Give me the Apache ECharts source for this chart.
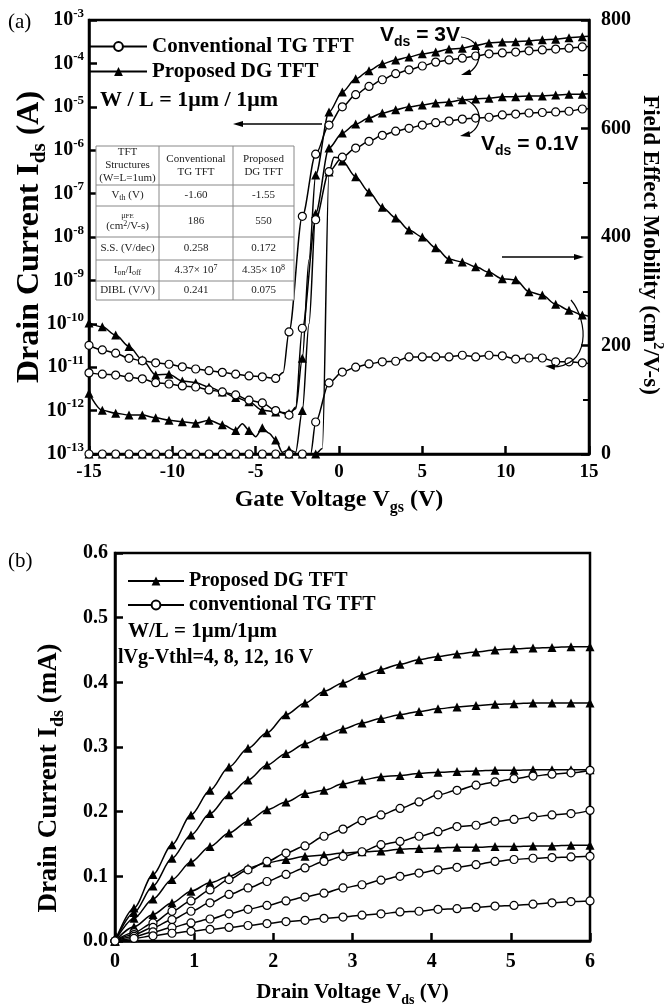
<!DOCTYPE html>
<html>
<head>
<meta charset="utf-8">
<script src="https://cdn.jsdelivr.net/npm/echarts@6/dist/echarts.min.js"></script>
</head>
<body style="margin:0;background:#fff">
<div id="container" style="width:665px;height:1008px"></div>
<script>
var SERIF = 'Liberation Serif';
var SANS = 'Liberation Sans';

// ---- panel (a): transfer curves, Vgs marker points ----
var vgsPoints = [-15, -14.2, -13.4, -12.6, -11.8, -11.0, -10.2, -9.4, -8.6, -7.8, -7.0, -6.2, -5.4, -4.6, -3.8,
    -3.0, -2.2, -1.4, -0.6, 0.2, 1.0, 1.8, 2.6, 3.4, 4.2, 5.0, 5.8, 6.6, 7.4, 8.2, 9.0, 9.8, 10.6, 11.4, 12.2, 13.0, 13.8, 14.6];

// drain current (A)
var idConv3V = [3.2e-11, 2.5e-11, 2.1e-11, 1.6e-11, 1.4e-11, 1.26e-11, 1.17e-11, 1.02e-11, 9.1e-12, 8.3e-12, 7.6e-12, 6.9e-12, 6.3e-12, 6.0e-12, 5.5e-12,
    6.5e-11, 3.0e-8, 8.1e-7, 3.8e-6, 1.0e-5, 1.9e-5, 2.95e-5, 4.2e-5, 5.8e-5, 7.1e-5, 8.7e-5, 1.07e-4, 1.2e-4, 1.32e-4, 1.48e-4, 1.66e-4, 1.74e-4, 1.82e-4, 1.95e-4, 2.04e-4, 2.14e-4, 2.24e-4, 2.4e-4];
var idConv3VExtra = [[-3.35, 7.5e-12], [15, 2.45e-4]];

var idConv01V = [7.4e-12, 6.9e-12, 6.6e-12, 5.9e-12, 5.4e-12, 4.4e-12, 4.1e-12, 3.7e-12, 3.5e-12, 3.0e-12, 2.7e-12, 2.3e-12, 1.74e-12, 1.5e-12, 1.0e-12,
    7.9e-13, 7.9e-11, 2.5e-8, 3.2e-7, 6.9e-7, 1.12e-6, 1.6e-6, 2.2e-6, 2.75e-6, 3.2e-6, 3.8e-6, 4.3e-6, 4.7e-6, 5.2e-6, 5.5e-6, 5.75e-6, 6.5e-6, 6.8e-6, 7.2e-6, 7.4e-6, 7.6e-6, 7.9e-6, 8.9e-6];
var idConv01VExtra = [[-2.6, 1.2e-12], [15, 9e-6]];

var idProp3V = [1.05e-10, 8.5e-11, 5.5e-11, 3.0e-11, 1.48e-11, 6.6e-12, 6.9e-12, 4.8e-12, 4.4e-12, 3.5e-12, 2.7e-12, 2.0e-12, 1.6e-12, 1.02e-12, 9.3e-13,
    8.7e-13, 1.6e-11, 2.7e-7, 7.6e-6, 2.2e-5, 4.4e-5, 6.8e-5, 9.8e-5, 1.2e-4, 1.41e-4, 1.66e-4, 1.82e-4, 2.14e-4, 2.24e-4, 2.6e-4, 2.95e-4, 3.1e-4, 3.16e-4, 3.3e-4, 3.5e-4, 3.6e-4, 3.9e-4, 4.1e-4];
var idProp3VExtra = [[-2.6, 1.1e-12], [-1.8, 3e-9], [15, 4.2e-4]];

var idProp01V = [2.5e-12, 1.02e-12, 8.7e-13, 7.9e-13, 7.9e-13, 6.8e-13, 6.0e-13, 5.5e-13, 5.1e-13, 6.0e-13, 4.7e-13, 3.5e-13, 3.5e-13, 4.0e-13, 2.1e-13,
    1.26e-13, 1.0e-12, 3.5e-8, 1.12e-6, 2.5e-6, 4.0e-6, 5.5e-6, 7.2e-6, 8.5e-6, 1.0e-5, 1.1e-5, 1.23e-5, 1.29e-5, 1.45e-5, 1.51e-5, 1.58e-5, 1.7e-5, 1.7e-5, 1.78e-5, 1.78e-5, 1.86e-5, 1.95e-5, 1.95e-5];
var idProp01VExtra = [[-5.8, 5e-13], [-5.0, 2.5e-13], [-4.2, 3e-13], [-3.4, 1.1e-13], [-2.6, 1.1e-13], [-1.8, 1e-10], [15, 2e-5]];

// field effect mobility (cm2/V-s)
var mobConv = [0, 0, 0, 0, 0, 0, 0, 0, 0, 0, 0, 0, 0, 0, 0, 0, 0,
    59, 131, 151, 160, 166, 170, 171, 179, 179, 179, 179, 182, 179, 182, 181, 175, 177, 177, 170, 170, 168];
var mobConvExtra = [[-1.7, 0], [15, 167]];

var mobProp = [0, 0, 0, 0, 0, 0, 0, 0, 0, 0, 0, 0, 0, 0, 0, 0, 0, 0,
    520, 540, 511, 483, 455, 435, 413, 400, 380, 359, 354, 345, 335, 323, 321, 299, 293, 276, 265, 256];
var mobPropExtra = [[-1.0, 10], [-0.3, 547], [0.0, 546], [15, 254]];

// ---- panel (b): output curves ----
var vdsPoints = [0, 0.24, 0.48, 0.72, 0.96, 1.2, 1.44, 1.68, 1.92, 2.16, 2.4, 2.64, 2.88, 3.12, 3.36, 3.6,
    3.84, 4.08, 4.32, 4.56, 4.8, 5.04, 5.28, 5.52, 5.76, 6.0];
var propOut16 = [0, 0.051, 0.103, 0.149, 0.195, 0.233, 0.269, 0.298, 0.322, 0.350, 0.368, 0.386, 0.399, 0.411, 0.420, 0.428, 0.435, 0.440, 0.444, 0.447, 0.450, 0.452, 0.453, 0.454, 0.455, 0.455];
var propOut12 = [0, 0.044, 0.085, 0.128, 0.164, 0.197, 0.226, 0.249, 0.272, 0.290, 0.305, 0.317, 0.328, 0.337, 0.344, 0.350, 0.355, 0.359, 0.362, 0.364, 0.366, 0.367, 0.368, 0.368, 0.368, 0.368];
var propOut8 = [0, 0.035, 0.065, 0.095, 0.122, 0.146, 0.167, 0.185, 0.203, 0.215, 0.228, 0.233, 0.243, 0.249, 0.254, 0.256, 0.259, 0.261, 0.262, 0.263, 0.264, 0.264, 0.265, 0.265, 0.265, 0.265];
var propOut4 = [0, 0.022, 0.041, 0.059, 0.077, 0.090, 0.100, 0.113, 0.121, 0.126, 0.131, 0.133, 0.136, 0.138, 0.139, 0.142, 0.143, 0.144, 0.145, 0.145, 0.146, 0.146, 0.147, 0.147, 0.148, 0.148];
var convOut16 = [0, 0.013, 0.028, 0.046, 0.062, 0.079, 0.095, 0.110, 0.123, 0.136, 0.147, 0.162, 0.173, 0.186, 0.195, 0.205, 0.215, 0.226, 0.233, 0.241, 0.246, 0.251, 0.255, 0.258, 0.260, 0.264];
var convOut12 = [0, 0.010, 0.021, 0.033, 0.046, 0.059, 0.072, 0.082, 0.092, 0.103, 0.113, 0.123, 0.131, 0.138, 0.149, 0.154, 0.162, 0.169, 0.177, 0.179, 0.185, 0.188, 0.192, 0.195, 0.197, 0.202];
var convOut8 = [0, 0.007, 0.014, 0.021, 0.028, 0.034, 0.042, 0.049, 0.055, 0.062, 0.068, 0.074, 0.082, 0.087, 0.094, 0.100, 0.105, 0.110, 0.114, 0.118, 0.123, 0.126, 0.128, 0.129, 0.130, 0.131];
var convOut4 = [0, 0.004, 0.008, 0.012, 0.015, 0.018, 0.021, 0.024, 0.027, 0.030, 0.032, 0.035, 0.037, 0.040, 0.042, 0.045, 0.046, 0.049, 0.050, 0.052, 0.054, 0.055, 0.057, 0.059, 0.061, 0.062];

// table inside panel (a)
var tableHead = ['TFT\nStructures\n(W=L=1um)', 'Conventional\nTG TFT', 'Proposed\nDG TFT'];
var tableRows = [
    ['{t|V}{s|th}{t| (V)}', '-1.60', '-1.55'],
    ['{s|\u03bc}{ss|FE}\n{t|(cm}{p|2}{t|/V-s)}', '186', '550'],
    ['{t|S.S. (V/dec)}', '0.258', '0.172'],
    ['{t|I}{s|on}{t|/I}{s|off}', '{t|4.37\u00d7 10}{p|7}', '{t|4.35\u00d7 10}{p|8}'],
    ['{t|DIBL (V/V)}', '0.241', '0.075']
];

var dom = document.getElementById('container');
var myChart = echarts.init(dom);

function mergePoints(xs, ys, extra) {
    var pts = xs.map(function (x, i) { return { value: [x, ys[i]] }; });
    (extra || []).forEach(function (p) { pts.push({ value: p, symbol: 'none' }); });
    pts.sort(function (a, b) { return a.value[0] - b.value[0]; });
    return pts;
}

function curve(name, data, isTri, xi, yi) {
    return {
        type: 'line', name: name, xAxisIndex: xi, yAxisIndex: yi,
        data: data, smooth: 0.3, smoothMonotone: 'x',
        symbol: isTri ? 'triangle' : 'circle',
        symbolSize: isTri ? 9 : 8,
        showAllSymbol: true,
        lineStyle: { color: '#000', width: 1.5 },
        itemStyle: isTri ? { color: '#000' } : { color: '#fff', borderColor: '#000', borderWidth: 1.2 },
        emphasis: { disabled: true },
        clip: true,
        z: isTri ? 3 : 4
    };
}

function nameRich(size) {
    return {
        t: { fontFamily: SERIF, fontWeight: 'bold', color: '#000', fontSize: size, lineHeight: size + 8 },
        s: { fontFamily: SERIF, fontWeight: 'bold', color: '#000', fontSize: Math.round(size * 0.65), lineHeight: Math.round(size * 0.7), verticalAlign: 'bottom' },
        p: { fontFamily: SERIF, fontWeight: 'bold', color: '#000', fontSize: Math.round(size * 0.6), lineHeight: Math.round(size * 0.7), verticalAlign: 'top' }
    };
}
var axisLineBlack = { onZero: false, lineStyle: { color: '#000', width: 2.5 } };
var tickIn = { inside: true, length: 8, lineStyle: { color: '#000', width: 2.5 } };

var series = [
    curve('Conventional TG TFT', mergePoints(vgsPoints, idConv3V, idConv3VExtra), false, 0, 0),
    curve('Proposed DG TFT', mergePoints(vgsPoints, idProp3V, idProp3VExtra), true, 0, 0),
    curve('Conventional TG TFT', mergePoints(vgsPoints, idConv01V, idConv01VExtra), false, 0, 0),
    curve('Proposed DG TFT', mergePoints(vgsPoints, idProp01V, idProp01VExtra), true, 0, 0),
    curve('Conventional TG TFT', mergePoints(vgsPoints, mobConv, mobConvExtra), false, 0, 1),
    curve('Proposed DG TFT', mergePoints(vgsPoints, mobProp, mobPropExtra), true, 0, 1),
    curve('Proposed DG TFT', mergePoints(vdsPoints, propOut16), true, 1, 2),
    curve('Proposed DG TFT', mergePoints(vdsPoints, propOut12), true, 1, 2),
    curve('Proposed DG TFT', mergePoints(vdsPoints, propOut8), true, 1, 2),
    curve('Proposed DG TFT', mergePoints(vdsPoints, propOut4), true, 1, 2),
    curve('conventional TG TFT', mergePoints(vdsPoints, convOut16), false, 1, 2),
    curve('conventional TG TFT', mergePoints(vdsPoints, convOut12), false, 1, 2),
    curve('conventional TG TFT', mergePoints(vdsPoints, convOut8), false, 1, 2),
    curve('conventional TG TFT', mergePoints(vdsPoints, convOut4), false, 1, 2)
];

// ---- graphic: labels, arrows, table ----
var g = [];
function txt(x, y, text, opt) {
    var st = { text: text, x: 0, y: 0, fill: '#000', fontFamily: SERIF, fontWeight: 'bold', fontSize: 20, align: 'left', verticalAlign: 'middle' };
    for (var k in opt) st[k] = opt[k];
    g.push({ type: 'text', x: x, y: y, z: 20, style: st });
}
function arrowHead(x, y, dx, dy) {
    var len = Math.sqrt(dx * dx + dy * dy), ux = dx / len, uy = dy / len;
    var bx = x - ux * 10, by = y - uy * 10;
    g.push({ type: 'polygon', z: 20, shape: { points: [[x, y], [bx - uy * 3, by + ux * 3], [bx + uy * 3, by - ux * 3]] }, style: { fill: '#000' } });
}
function seg(x1, y1, x2, y2, w) {
    g.push({ type: 'line', z: 20, shape: { x1: x1, y1: y1, x2: x2, y2: y2 }, style: { stroke: '#000', lineWidth: w || 1.5 } });
}
function bez(p, w) {
    g.push({ type: 'bezierCurve', z: 20, shape: { x1: p[0], y1: p[1], cpx1: p[2], cpy1: p[3], cpx2: p[4], cpy2: p[5], x2: p[6], y2: p[7] }, style: { stroke: '#000', lineWidth: w || 1.2, fill: null } });
}

txt(8, 22, '(a)', { fontWeight: 'normal', fontSize: 21 });
txt(8, 561, '(b)', { fontWeight: 'normal', fontSize: 21 });
txt(100, 100, 'W / L = 1\u03bcm / 1\u03bcm', { fontSize: 22 });
txt(128, 632, 'W/L = 1\u03bcm/1\u03bcm', { fontSize: 21 });
txt(118, 658, 'lVg-Vthl=4, 8, 12, 16 V', { fontSize: 20 });

var vdsRich = {
    v: { fontFamily: SANS, fontWeight: 'bold', fontSize: 21, color: '#000', lineHeight: 28 },
    s: { fontFamily: SANS, fontWeight: 'bold', fontSize: 14, color: '#000', lineHeight: 14, verticalAlign: 'bottom' }
};
txt(380, 35, '{v|V}{s|ds}{v| = 3V}', { rich: vdsRich });
txt(481, 144, '{v|V}{s|ds}{v| = 0.1V}', { rich: vdsRich });

// straight arrows
seg(322, 124, 236, 124, 1.5); arrowHead(233, 124, -1, 0);
seg(502, 257, 580, 257, 1.5); arrowHead(584, 257, 1, 0);
// curved arrows
bez([461, 37, 483, 39, 485, 66, 466, 74]); arrowHead(461, 75, -1, 0.3);
bez([457, 98, 484, 100, 486, 130, 465, 135]); arrowHead(460, 136, -1, 0.2);
bez([571, 300, 588, 320, 592, 368, 550, 367]); arrowHead(545, 366, -1, -0.1);

// table
var colX = [96, 159, 233, 294];
var rowY = [146, 185, 206, 237, 260, 281, 300];
g.push({ type: 'rect', z: 15, shape: { x: colX[0], y: rowY[0], width: colX[3] - colX[0], height: rowY[6] - rowY[0] }, style: { fill: '#fff', stroke: '#888', lineWidth: 1 } });
colX.slice(1, 3).forEach(function (x) {
    g.push({ type: 'line', z: 16, shape: { x1: x, y1: rowY[0], x2: x, y2: rowY[6] }, style: { stroke: '#888', lineWidth: 1 } });
});
rowY.slice(1, 6).forEach(function (y) {
    g.push({ type: 'line', z: 16, shape: { x1: colX[0], y1: y, x2: colX[3], y2: y }, style: { stroke: '#888', lineWidth: 1 } });
});
var cellRich = {
    t: { fontFamily: SERIF, fontSize: 11, color: '#222', lineHeight: 13 },
    s: { fontFamily: SERIF, fontSize: 8, color: '#222', lineHeight: 8, verticalAlign: 'bottom' },
    ss: { fontFamily: SERIF, fontSize: 7, color: '#222', lineHeight: 9, verticalAlign: 'bottom' },
    p: { fontFamily: SERIF, fontSize: 8, color: '#222', lineHeight: 8, verticalAlign: 'top' }
};
function cell(ci, ri, text) {
    g.push({
        type: 'text', z: 17, x: (colX[ci] + colX[ci + 1]) / 2, y: (rowY[ri] + rowY[ri + 1]) / 2,
        style: { text: text.indexOf('{') === 0 ? text : '{t|' + text.split('\n').join('}\n{t|') + '}', rich: cellRich, align: 'center', verticalAlign: 'middle', fill: '#222' }
    });
}
tableHead.forEach(function (h, i) { cell(i, 0, h); });
tableRows.forEach(function (r, ri) { r.forEach(function (c, ci) { cell(ci, ri + 1, c); }); });

var option = {
    backgroundColor: '#fff',
    animation: false,
    textStyle: { fontFamily: SERIF },
    grid: [
        { left: 89, top: 20, width: 500, height: 434, outerBoundsMode: 'none', containLabel: false, show: true, borderColor: '#000', borderWidth: 2.5, backgroundColor: 'transparent' },
        { left: 115, top: 553, width: 475, height: 388, outerBoundsMode: 'none', containLabel: false, show: true, borderColor: '#000', borderWidth: 2.5, backgroundColor: 'transparent' }
    ],
    legend: [
        {
            data: ['Conventional TG TFT', 'Proposed DG TFT'], orient: 'vertical', left: 89, top: 36, padding: 0,
            itemWidth: 57, itemHeight: 11, itemGap: 4, selectedMode: false,
            textStyle: { fontFamily: SERIF, fontWeight: 'bold', fontSize: 21, color: '#000' }
        },
        {
            data: ['Proposed DG TFT', 'conventional TG TFT'], orient: 'vertical', left: 127, top: 571, padding: 0,
            itemWidth: 56, itemHeight: 11, itemGap: 4, selectedMode: false,
            textStyle: { fontFamily: SERIF, fontWeight: 'bold', fontSize: 20, color: '#000' }
        }
    ],
    xAxis: [
        {
            gridIndex: 0, type: 'value', min: -15, max: 15, interval: 5,
            axisLine: axisLineBlack, axisTick: tickIn, splitLine: { show: false },
            axisLabel: { fontFamily: SERIF, fontWeight: 'bold', fontSize: 19, color: '#000', margin: 9 },
            name: '{t|Gate Voltage V}{s|gs}{t| (V)}', nameLocation: 'middle', nameGap: 30, nameMoveOverlap: false,
            nameTextStyle: { rich: nameRich(24) }
        },
        {
            gridIndex: 1, type: 'value', min: 0, max: 6, interval: 1,
            axisLine: axisLineBlack, axisTick: tickIn, splitLine: { show: false },
            axisLabel: { fontFamily: SERIF, fontWeight: 'bold', fontSize: 20, color: '#000', margin: 11 },
            name: '{t|Drain Voltage V}{s|ds}{t| (V)}', nameLocation: 'middle', nameGap: 37, nameMoveOverlap: false,
            nameTextStyle: { rich: nameRich(21) }
        }
    ],
    yAxis: [
        {
            gridIndex: 0, type: 'log', logBase: 10, min: 1e-13, max: 1e-3, splitNumber: 10, position: 'left',
            axisLine: axisLineBlack, axisTick: tickIn, splitLine: { show: false }, minorTick: { show: false },
            axisLabel: {
                margin: 5,
                formatter: function (v) { return '{b|10}{e|' + Math.round(Math.log10(v)) + '}'; },
                rich: {
                    b: { fontFamily: SERIF, fontWeight: 'bold', fontSize: 20, color: '#000', lineHeight: 26 },
                    e: { fontFamily: SERIF, fontWeight: 'bold', fontSize: 13, color: '#000', lineHeight: 14, verticalAlign: 'top' }
                }
            },
            name: '{t|Drain Current I}{s|ds}{t| (A)}', nameLocation: 'middle', nameGap: 39, nameRotate: 90, nameMoveOverlap: false,
            nameTextStyle: { rich: nameRich(32) }
        },
        {
            gridIndex: 0, type: 'value', min: 0, max: 800, interval: 200, position: 'right',
            axisLine: axisLineBlack, axisTick: tickIn, splitLine: { show: false },
            minorTick: { show: true, splitNumber: 2, length: 6, lineStyle: { color: '#000', width: 2 } },
            axisLabel: { fontFamily: SERIF, fontWeight: 'bold', fontSize: 20, color: '#000', margin: 12 },
            name: '{t|Field Effect Mobility (cm}{p|2}{t|/V-s)}', nameLocation: 'middle', nameGap: 45, nameRotate: -90, nameMoveOverlap: false,
            nameTextStyle: { rich: nameRich(23), padding: [0, 0, 0, 16] }
        },
        {
            gridIndex: 1, type: 'value', min: 0, max: 0.6, interval: 0.1,
            axisLine: axisLineBlack, axisTick: tickIn, splitLine: { show: false },
            axisLabel: { fontFamily: SERIF, fontWeight: 'bold', fontSize: 20, color: '#000', margin: 7, formatter: function (v) { return v.toFixed(1); } },
            name: '{t|Drain Current I}{s|ds}{t| (mA)}', nameLocation: 'middle', nameGap: 48, nameRotate: 90, nameMoveOverlap: false,
            nameTextStyle: { rich: nameRich(27), padding: [0, 62, 0, 0] }
        }
    ],
    graphic: g,
    series: series
};

myChart.setOption(option);
</script>
</body>
</html>
